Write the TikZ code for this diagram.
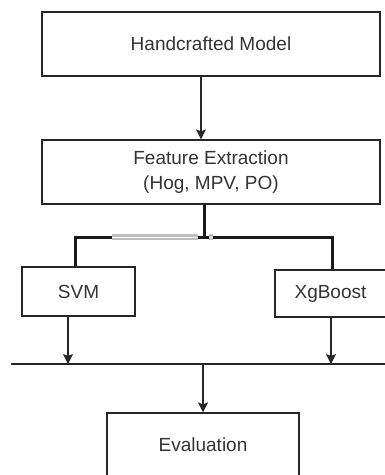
\documentclass[tikz,border=0pt]{standalone}
\usepackage{fontspec}
\setmainfont{Liberation Sans}
\usetikzlibrary{arrows.meta}
\begin{document}
\begin{tikzpicture}[x=1pt,y=-1pt,
  box/.style={draw=black!85,line width=1.2pt,rectangle,inner sep=0pt,
    text=black!80,font=\fontsize{19}{25}\selectfont,align=center},
  conn/.style={draw=black!85,line width=1.2pt},
  arr/.style={conn,-{Stealth[length=10pt,width=10pt,inset=2pt]}},
  thk/.style={draw=black!90,line width=3pt},
  pale/.style={draw=black!25,line width=2.8pt,double=white,double distance=0.8pt}]
\useasboundingbox (0,0) rectangle (385,475);

% boxes
\node[box,minimum width=338pt,minimum height=64pt] (h) at (211,44) {Handcrafted Model};
\node[box,minimum width=338pt,minimum height=64pt] (f) at (211,172) {Feature Extraction\\(Hog, MPV, PO)};
\node[box,minimum width=113pt,minimum height=49pt] (svm) at (78.5,291.5) {SVM};
\node[box,minimum width=114pt,minimum height=47pt] (xg) at (332,293.5) {\hspace*{-3pt}XgBoost};
\node[box,minimum width=192pt,minimum height=68pt] (ev) at (203,447) {\raisebox{4pt}{Evaluation}};

% top arrow
\draw[arr] ([xshift=-10pt]h.south) -- ([xshift=-10pt]f.north);

% split towards the two classifiers
\coordinate (j) at (204,237);
\coordinate (pa) at (112,237);
\coordinate (pb) at (198,237);
\coordinate (pc) at (209,237);
\coordinate (pd) at (213,237);
\draw[thk] ([xshift=-7pt]f.south) -- (j);
\draw[pale] (pa) -- (pb);
\draw[pale] (pc) -- (pd);
\draw[thk] ([xshift=-3.5pt]svm.north) |- (pa);
\draw[thk] (pb) -- (pc);
\draw[thk] (pd) -| (xg.north);

% merge bus
\coordinate (busL) at (11,364);
\coordinate (busR) at (390,364);
\coordinate (busM) at (203,364);
\draw[conn] (busL) -- (busR);
\draw[arr] ([xshift=-10.5pt]svm.south) -- ([xshift=-10.5pt]svm.south |- busL);
\draw[arr] ([xshift=-1pt]xg.south) -- ([xshift=-1pt]xg.south |- busL);
\draw[arr] (busM) -- (ev.north);
\end{tikzpicture}
\end{document}
